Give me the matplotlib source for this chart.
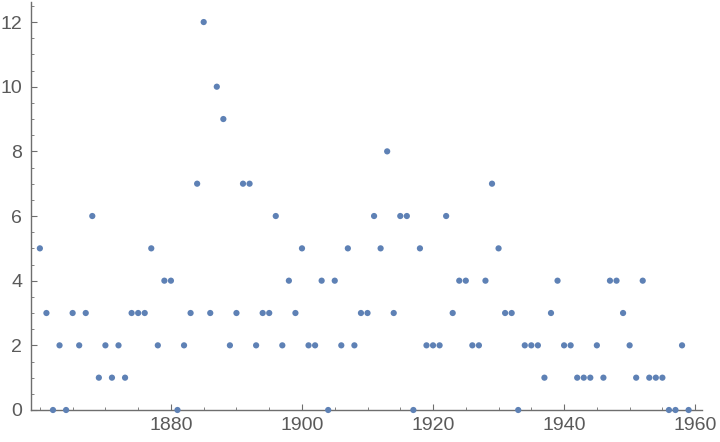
import matplotlib.pyplot as plt
from matplotlib.ticker import MultipleLocator

# yearly counts, 1860-1959
years = list(range(1860, 1960))
counts = [
    5, 3, 0, 2, 0, 3, 2, 3, 6, 1,   # 1860s
    2, 1, 2, 1, 3, 3, 3, 5, 2, 4,   # 1870s
    4, 0, 2, 3, 7, 12, 3, 10, 9, 2, # 1880s
    3, 7, 7, 2, 3, 3, 6, 2, 4, 3,   # 1890s
    5, 2, 2, 4, 0, 4, 2, 5, 2, 3,   # 1900s
    3, 6, 5, 8, 3, 6, 6, 0, 5, 2,   # 1910s
    2, 2, 6, 3, 4, 4, 2, 2, 4, 7,   # 1920s
    5, 3, 3, 0, 2, 2, 2, 1, 3, 4,   # 1930s
    2, 2, 1, 1, 1, 2, 1, 4, 4, 3,   # 1940s
    2, 1, 4, 1, 1, 1, 0, 0, 2, 0,   # 1950s
]
x_ticks = [1880, 1900, 1920, 1940, 1960]
y_ticks = [0, 2, 4, 6, 8, 10, 12]

plt.rcParams['font.family'] = ['Liberation Sans', 'DejaVu Sans']

axis_color = '#6e6e6e'
label_color = '#5a5a5a'

fig = plt.figure(figsize=(7.2, 4.42), dpi=100)
ax = fig.add_axes([30.7 / 720, 32 / 442, 671 / 720, 408 / 442])

ax.scatter(years, counts, s=20, color='#5e81b5', edgecolors='none',
           clip_on=False, zorder=3)

ax.set_xlim(1858.6, 1961.0)
ax.set_ylim(0, 12.62)

ax.set_xticks(x_ticks)
ax.set_yticks(y_ticks)
ax.xaxis.set_minor_locator(MultipleLocator(5))
ax.yaxis.set_minor_locator(MultipleLocator(0.5))

for side in ['top', 'right']:
    ax.spines[side].set_visible(False)
for side in ['left', 'bottom']:
    ax.spines[side].set_color(axis_color)
    ax.spines[side].set_linewidth(1.0)

ax.tick_params(axis='both', which='major', direction='in', length=4,
               width=0.8, color=axis_color, labelcolor=label_color,
               labelsize=14)
ax.tick_params(axis='both', which='minor', direction='in', length=2.5,
               width=0.6, color=axis_color)
ax.tick_params(axis='x', which='major', pad=5)
ax.tick_params(axis='y', which='major', pad=6)

fig.savefig('out.png', dpi=100)
